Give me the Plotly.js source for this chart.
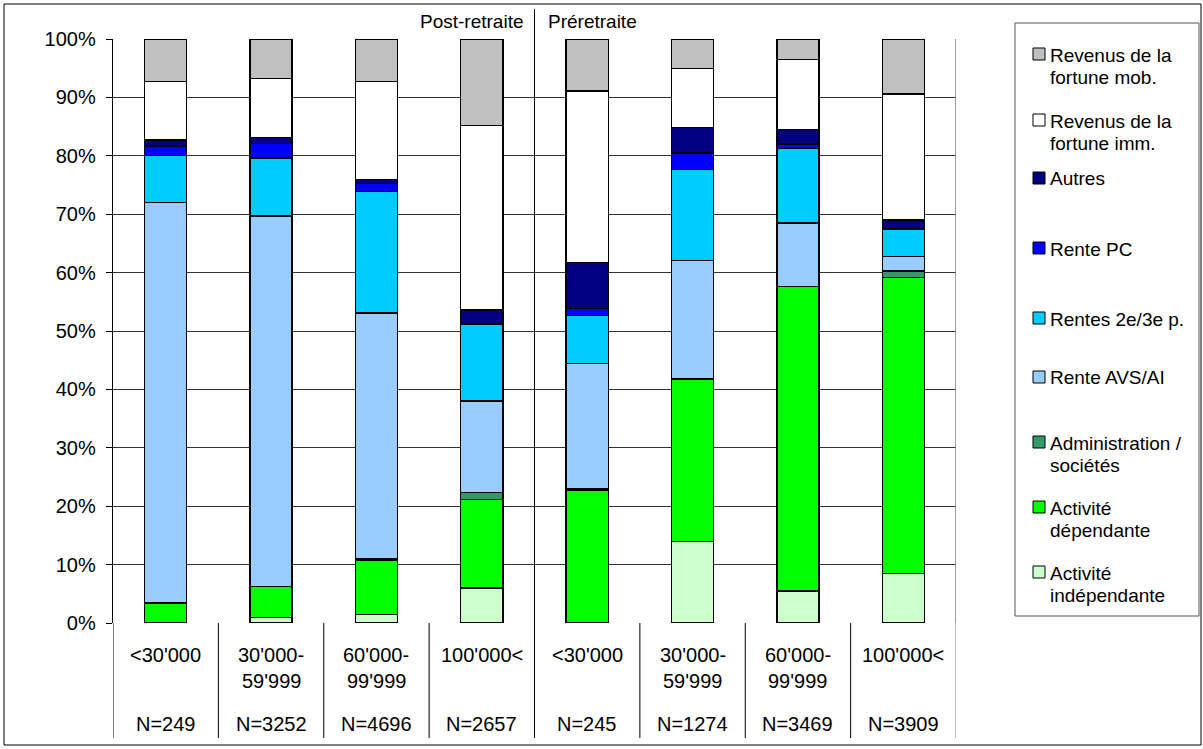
<!DOCTYPE html>
<html><head><meta charset="utf-8">
<script src="https://cdn.plot.ly/plotly-3.0.1.min.js"></script>
<style>html,body{margin:0;padding:0;background:#fff}#chart{width:1203px;height:749px}</style>
</head><body><div id="chart"></div>
<script>
// ---- data ----
const catLine1 = ["<30'000", "30'000-", "60'000-", "100'000<", "<30'000", "30'000-", "60'000-", "100'000<"];
const catLine2 = ["", "59'999", "99'999", "", "", "59'999", "99'999", ""];
const nLabels = ["N=249", "N=3252", "N=4696", "N=2657", "N=245", "N=1274", "N=3469", "N=3909"];
const groupLabels = ["Post-retraite", "Préretraite"];
const yTickVals = [0, 10, 20, 30, 40, 50, 60, 70, 80, 90, 100];
const yTickText = ["0%", "10%", "20%", "30%", "40%", "50%", "60%", "70%", "80%", "90%", "100%"];

const indep   = [0, 1.0, 1.5, 6.0, 0, 13.9, 5.5, 8.5];
const dep     = [3.4, 5.3, 9.3, 15.2, 22.8, 27.9, 52.1, 50.7];
const admin   = [0, 0, 0.2, 1.2, 0.2, 0, 0, 1.1];
const avs     = [68.6, 63.4, 42.1, 15.6, 21.4, 20.3, 10.9, 2.5];
const rentes2 = [8.0, 9.9, 20.8, 13.2, 8.2, 15.6, 12.7, 4.6];
const pc      = [1.7, 2.5, 1.4, 0, 1.2, 2.8, 0.8, 0.2];
const autres  = [1.0, 1.0, 0.7, 2.4, 7.9, 4.3, 2.5, 1.4];
const imm     = [10.0, 10.1, 16.7, 31.6, 29.4, 10.1, 12.0, 21.6];
const mob     = [7.3, 6.8, 7.3, 14.8, 8.9, 5.1, 3.5, 9.4];

const seriesNames = ["Activité<br>indépendante", "Activité<br>dépendante", "Administration /<br>sociétés", "Rente AVS/AI", "Rentes 2e/3e p.", "Rente PC", "Autres", "Revenus de la<br>fortune imm.", "Revenus de la<br>fortune mob."];
const seriesValues = [indep, dep, admin, avs, rentes2, pc, autres, imm, mob];
const seriesColors = ["#CCFFCC", "#00FF00", "#339966", "#99CCFF", "#00CCFF", "#0000FF", "#000080", "#FFFFFF", "#C0C0C0"];

// ---- layout helpers ----
const W = 1203, H = 749;
const L = 113, R = 956, T = 39, B = 623;
const px2x = p => (p - L) / (R - L);
const py2y = p => (B - p) / (B - T);
const FONT = "Liberation Sans, Arial, sans-serif";
const FS = 20;
const FS_LEG = 19;

const xs = catLine1.map((_, i) => i);
const traces = seriesValues.map((v, k) => ({
  type: "bar", x: xs, y: v, name: seriesNames[k].replace("<br>", " "),
  marker: {color: seriesColors[k], line: {color: "#000", width: 1.3}},
  showlegend: false, hoverinfo: "skip"
}));

const annotations = [];
const shapes = [];
const txt = (x, y, xref, text, xanchor, size) => ({x: x, y: y, xref: xref, yref: "paper", text: text, showarrow: false, xanchor: xanchor, yanchor: "middle", font: {family: FONT, size: size || FS, color: "#000"}});
xs.forEach(i => {
  annotations.push(txt(i, py2y(655), "x", catLine1[i], "center"));
  if (catLine2[i]) annotations.push(txt(i, py2y(681), "x", catLine2[i], "center"));
  annotations.push(txt(i, py2y(724), "x", nLabels[i], "center"));
});
// category dividers below axis
for (let i = -0.5; i <= 7.5; i += 1) {
  shapes.push({type: "line", xref: "x", yref: "paper", x0: i, x1: i, y0: 0, y1: py2y(738), line: {color: i === 7.5 ? "#808080" : "#000", width: 1}});
}
// right border of plot
shapes.push({type: "line", xref: "x", yref: "paper", x0: 7.5, x1: 7.5, y0: 0, y1: 1, line: {color: "#808080", width: 1.5}});
// group separator
shapes.push({type: "line", xref: "x", yref: "paper", x0: 3.5, x1: 3.5, y0: 0, y1: py2y(9), line: {color: "#000", width: 1}});
annotations.push(txt(px2x(525), py2y(22), "paper", groupLabels[0], "right", FS_LEG));
annotations.push(txt(px2x(546), py2y(22), "paper", groupLabels[1], "left", FS_LEG));

// custom legend (top to bottom = reversed stacking order)
shapes.push({type: "rect", xref: "paper", yref: "paper", x0: px2x(1015), x1: px2x(1199), y0: py2y(23), y1: py2y(616), line: {color: "#555", width: 1}, fillcolor: "rgba(0,0,0,0)"});
const legY = [54, 120, 178, 248, 318, 377, 442, 507, 572];
for (let j = 0; j < 9; j++) {
  const k = 8 - j;
  const cy = legY[j];
  shapes.push({type: "rect", xref: "paper", yref: "paper", x0: px2x(1033), x1: px2x(1045), y0: py2y(cy - 6), y1: py2y(cy + 6), line: {color: "#000", width: 1}, fillcolor: seriesColors[k]});
  seriesNames[k].split("<br>").forEach((line, li) => {
    annotations.push(txt(px2x(1048), py2y(cy + 1 + li * 22.5), "paper", line, "left", FS_LEG));
  });
}
// outer frame
shapes.push({type: "rect", xref: "paper", yref: "paper", x0: px2x(4), x1: px2x(1201), y0: py2y(4), y1: py2y(745), line: {color: "#000", width: 1}, fillcolor: "rgba(0,0,0,0)", layer: "below"});

const layout = {
  width: W, height: H,
  margin: {l: L, r: W - R, t: T, b: H - B, pad: 0},
  paper_bgcolor: "#fff", plot_bgcolor: "#fff",
  barmode: "stack", bargap: 0.6,
  font: {family: FONT, size: FS, color: "#000"},
  xaxis: {range: [-0.5, 7.5], showticklabels: false, ticks: "", showgrid: false, zeroline: false, showline: false, fixedrange: true},
  yaxis: {range: [0, 100], tickmode: "array", tickvals: yTickVals, ticktext: yTickText, ticks: "outside", ticklen: 6, tickcolor: "#000", tickwidth: 1,
          showgrid: true, gridcolor: "#333", gridwidth: 1, zeroline: false, showline: true, linecolor: "#000", linewidth: 1.3, ticklabelstandoff: 6,
          tickfont: {family: FONT, size: FS, color: "#000"}, fixedrange: true},
  shapes: shapes, annotations: annotations, showlegend: false
};
Plotly.newPlot("chart", traces, layout, {staticPlot: true});
</script></body></html>
